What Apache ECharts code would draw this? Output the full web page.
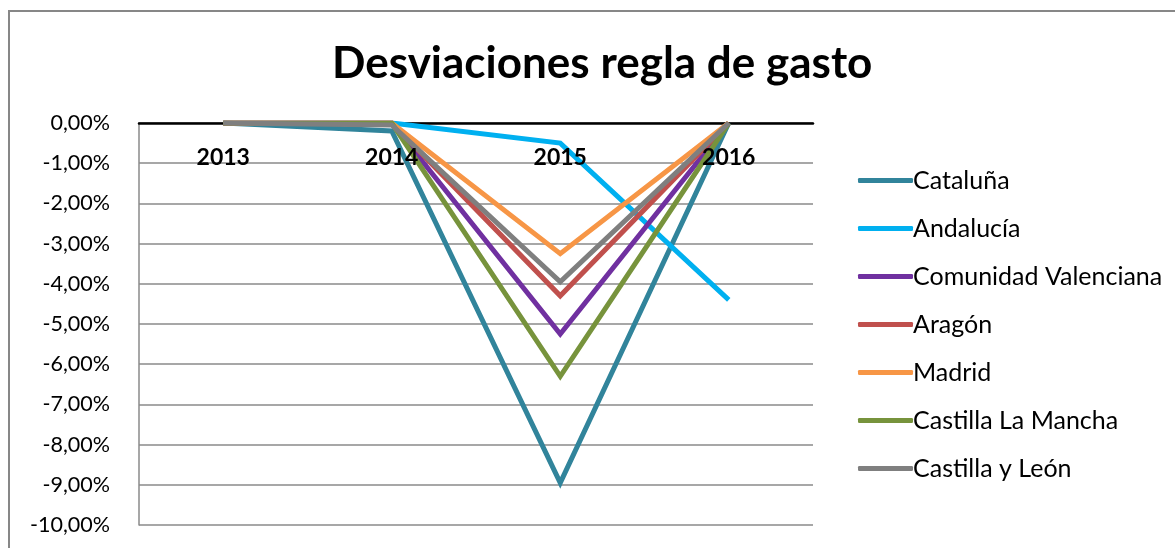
<!DOCTYPE html>
<html>
<head>
<meta charset="utf-8">
<script src="https://cdn.jsdelivr.net/npm/echarts@6/dist/echarts.min.js"></script>
<style>
  html, body { margin: 0; padding: 0; background: #fff; }
  #chart { width: 1175px; height: 548px; }
</style>
</head>
<body>
<div id="chart"></div>
<script>
// Years on the category axis
var years = ['2013', '2014', '2015', '2016'];

// Deviation from the spending rule, in percent
var cataluna = [0, -0.2, -8.95, 0];
var andalucia = [0, 0, -0.5, -4.4];
var comunidadValenciana = [0, 0, -5.25, 0];
var aragon = [0, 0, -4.3, 0];
var madrid = [0, 0, -3.25, 0];
var castillaLaMancha = [0, 0, -6.3, 0];
var castillaYLeon = [0, -0.05, -3.95, 0];

var seriesNames = ['Cataluña', 'Andalucía', 'Comunidad Valenciana', 'Aragón', 'Madrid', 'Castilla La Mancha', 'Castilla y León'];
var seriesValues = [cataluna, andalucia, comunidadValenciana, aragon, madrid, castillaLaMancha, castillaYLeon];
var seriesColors = ['#31849B', '#00B0F0', '#7030A0', '#C0504D', '#F79646', '#77933C', '#7F7F7F'];

var FONT = 'Lato, "Open Sans", sans-serif';

var chart = echarts.init(document.getElementById('chart'));

chart.setOption({
  backgroundColor: '#ffffff',
  animation: false,
  title: {
    text: 'Desviaciones regla de gasto',
    left: 327,
    top: 37,
    textStyle: { fontFamily: FONT, fontSize: 44, fontWeight: 'bold', color: '#000' }
  },
  graphic: [{
    type: 'rect',
    shape: { x: 9, y: 11, width: 1200, height: 600 },
    style: { fill: 'none', stroke: '#878787', lineWidth: 2 },
    silent: true
  }],
  legend: {
    orient: 'vertical',
    left: 853,
    top: 163,
    itemWidth: 55,
    itemHeight: 5,
    itemGap: 23,
    icon: 'roundRect',
    textStyle: { fontFamily: FONT, fontSize: 25, color: '#000', lineHeight: 25, padding: [0, 0, 0, -5] },
    data: seriesNames
  },
  grid: { left: 139, right: 362, top: 123, bottom: 23, outerBoundsMode: 'none', containLabel: false },
  xAxis: [{
    // year labels, drawn above the lines
    type: 'category',
    position: 'top',
    data: years,
    boundaryGap: true,
    z: 10,
    axisLine: { show: false, onZero: false },
    axisTick: { show: false },
    axisLabel: { inside: true, margin: 23, fontFamily: FONT, fontSize: 23, fontWeight: 'bold', color: '#000' },
    splitLine: { show: false }
  }, {
    // black zero line, drawn beneath the lines
    type: 'category',
    position: 'bottom',
    data: years,
    boundaryGap: true,
    z: 0,
    axisLine: { show: true, onZero: true, lineStyle: { color: '#000', width: 2.5 } },
    axisTick: { show: false },
    axisLabel: { show: false },
    splitLine: { show: false }
  }],
  yAxis: {
    type: 'value',
    min: -10,
    max: 0,
    interval: 1,
    axisLine: { show: true, lineStyle: { color: '#8a8a8a', width: 1.5 } },
    axisTick: { show: false },
    axisLabel: {
      margin: 29,
      fontFamily: FONT,
      fontSize: 21.5,
      color: '#000',
      formatter: function (v) { return v.toFixed(2).replace('.', ',') + '%'; }
    },
    splitLine: { lineStyle: { color: '#8a8a8a', width: 1.5 } }
  },
  series: seriesNames.map(function (name, i) {
    return {
      name: name,
      type: 'line',
      xAxisIndex: 0,
      data: seriesValues[i],
      showSymbol: false,
      symbol: 'none',
      color: seriesColors[i],
      lineStyle: { width: 5, color: seriesColors[i], join: 'miter' },
      z: 2 + i
    };
  })
});
</script>
</body>
</html>
